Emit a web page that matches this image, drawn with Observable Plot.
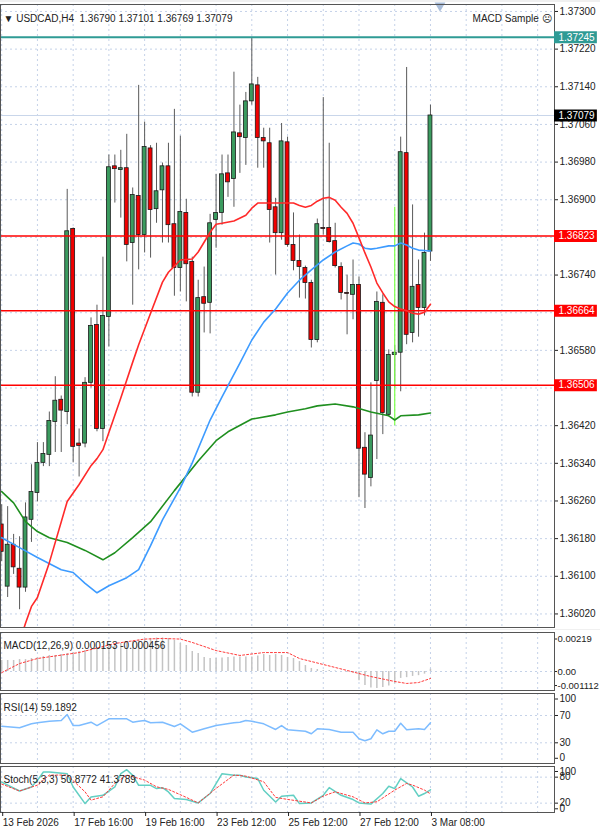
<!DOCTYPE html>
<html><head><meta charset="utf-8">
<script src="https://cdn.jsdelivr.net/npm/d3@7"></script>
<script src="https://cdn.jsdelivr.net/npm/@observablehq/plot@0.6"></script>
<style>
html,body{margin:0;padding:0;background:#fff;}
#wrap{position:relative;width:600px;height:831px;background:#f0f0f0;overflow:hidden;}
#wrap svg{position:absolute;left:0;background:#fff;}
</style></head><body><div id="wrap"></div>
<script>
// ---------- DATA ----------
const opens  = [1.36210,1.36078,1.36167,1.36116,1.36076,1.36220,1.36277,1.36341,1.36358,1.36428,1.36475,1.36449,1.36838,1.36382,1.36382,1.36511,1.36634,1.36413,1.36651,1.36971,1.36963,1.36967,1.36808,1.36908,1.36825,1.37009,1.36880,1.36920,1.36971,1.36848,1.36755,1.36872,1.36768,1.36490,1.36693,1.36681,1.36857,1.36872,1.36956,1.36944,1.37041,1.37031,1.37109,1.37143,1.37031,1.37020,1.36884,1.36829,1.37022,1.36804,1.36770,1.36755,1.36723,1.36602,1.36840,1.36840,1.36812,1.36757,1.36702,1.36698,1.36719,1.36373,1.36309,1.36515,1.36681,1.36443,1.36570,1.36575,1.36999,1.36617,1.36719,1.36670,1.36790];
const highs  = [1.36252,1.36248,1.36189,1.36184,1.36256,1.36337,1.36384,1.36384,1.36449,1.36524,1.36483,1.36922,1.36840,1.36413,1.36522,1.36649,1.36676,1.36778,1.36995,1.36995,1.37005,1.37039,1.36925,1.37143,1.37065,1.37015,1.37020,1.36978,1.37020,1.37092,1.37035,1.36901,1.36778,1.36729,1.36757,1.36869,1.36954,1.36995,1.36995,1.37171,1.37101,1.37128,1.37245,1.37160,1.37052,1.37052,1.36903,1.37062,1.37033,1.36872,1.36825,1.36759,1.36729,1.36859,1.37117,1.37020,1.36850,1.36766,1.36740,1.36772,1.36736,1.36405,1.36511,1.36704,1.36698,1.36581,1.36590,1.37033,1.37181,1.36889,1.36772,1.36829,1.37101];
const lows   = [1.36131,1.36055,1.36104,1.36029,1.36066,1.36172,1.36258,1.36333,1.36333,1.36363,1.36363,1.36422,1.36341,1.36311,1.36373,1.36500,1.36407,1.36386,1.36587,1.36893,1.36861,1.36768,1.36676,1.36751,1.36787,1.36776,1.36850,1.36808,1.36808,1.36695,1.36704,1.36683,1.36481,1.36481,1.36617,1.36615,1.36797,1.36846,1.36905,1.36884,1.36956,1.36973,1.37101,1.36967,1.36967,1.36808,1.36740,1.36814,1.36799,1.36749,1.36691,1.36689,1.36585,1.36596,1.36825,1.36808,1.36755,1.36687,1.36613,1.36645,1.36267,1.36244,1.36290,1.36348,1.36401,1.36439,1.36500,1.36492,1.36592,1.36596,1.36608,1.36653,1.36769];
const closes = [1.36152,1.36167,1.36119,1.36076,1.36225,1.36279,1.36341,1.36360,1.36430,1.36473,1.36452,1.36833,1.36375,1.36377,1.36511,1.36632,1.36413,1.36653,1.36969,1.36965,1.36967,1.36804,1.36910,1.36825,1.37012,1.36878,1.36918,1.36971,1.36846,1.36755,1.36874,1.36763,1.36490,1.36691,1.36679,1.36850,1.36872,1.36954,1.36937,1.37043,1.37033,1.37109,1.37145,1.37031,1.37024,1.36878,1.36829,1.37024,1.36804,1.36770,1.36757,1.36723,1.36602,1.36848,1.36838,1.36810,1.36759,1.36702,1.36700,1.36719,1.36371,1.36316,1.36399,1.36683,1.36447,1.36570,1.36575,1.37001,1.36613,1.36715,1.36670,1.36787,1.37079];

// moving averages, read at bar indices
const redMaIdx = [2,4,5,6,8,11,13,15,16,17,20,22,23,25,27,28,29,30,32,33,35,36,37,39,41,42,43,45,47,49,50,51,52,53,54,55,56,57,58,59,60,61,62,63,64,65,66,67,68,69,70,71,72];
const redMaVal = [1.35923,1.36000,1.36036,1.36055,1.36129,1.36259,1.36295,1.36335,1.36350,1.36369,1.36479,1.36555,1.36592,1.36659,1.36725,1.36746,1.36759,1.36772,1.36774,1.36789,1.36831,1.36848,1.36850,1.36855,1.36867,1.36882,1.36893,1.36893,1.36893,1.36893,1.36888,1.36884,1.36888,1.36897,1.36903,1.36905,1.36899,1.36884,1.36871,1.36850,1.36819,1.36787,1.36757,1.36723,1.36702,1.36683,1.36673,1.36668,1.36664,1.36659,1.36657,1.36661,1.36678];
const blueMaIdx = [0,3,6,10,12,14,16,18,21,23,25,27,30,32,35,37,40,42,44,46,48,50,52,54,56,58,59,60,61,62,63,65,66,67,68,69,70,72];
const blueMaVal = [1.36182,1.36161,1.36140,1.36114,1.36108,1.36085,1.36065,1.36080,1.36097,1.36114,1.36165,1.36220,1.36288,1.36341,1.36432,1.36481,1.36553,1.36602,1.36640,1.36668,1.36702,1.36729,1.36751,1.36772,1.36789,1.36802,1.36808,1.36806,1.36797,1.36795,1.36797,1.36802,1.36802,1.36808,1.36804,1.36797,1.36793,1.36791];
const greenMaIdx = [0,2,4,6,8,11,14,17,19,22,25,29,33,36,38,42,46,48,51,53,56,59,62,65,66,67,70,72];
const greenMaVal = [1.36280,1.36256,1.36216,1.36195,1.36182,1.36172,1.36155,1.36135,1.36150,1.36182,1.36216,1.36282,1.36345,1.36388,1.36407,1.36434,1.36443,1.36449,1.36456,1.36462,1.36466,1.36460,1.36449,1.36441,1.36432,1.36441,1.36443,1.36447];

// horizontal levels
const tealLevel = 1.37245;
const bidLevel = 1.37079;
const redLevels = [1.36823, 1.36664, 1.36506];
const limeBar = {i: 66, top: 1.36884, bottom: 1.36420};
const shiftMarkerIdx = 73.6;

// MACD main (histogram) per bar and signal read points
const macdHist = [0.00072,0.00072,0.00072,0.00078,0.00078,0.00085,0.00092,0.00098,0.00105,0.00105,0.00111,0.00118,0.00124,0.00131,0.00137,0.00144,0.00150,0.00157,0.00170,0.00177,0.00183,0.00190,0.00196,0.00203,0.00209,0.00216,0.00219,0.00219,0.00216,0.00203,0.00183,0.00170,0.00131,0.00118,0.00092,0.00085,0.00085,0.00088,0.00092,0.00095,0.00095,0.00095,0.00095,0.00101,0.00111,0.00105,0.00111,0.00105,0.00092,0.00085,0.00065,0.00039,0.00020,0.00013,0.00007,0.00007,0.00003,0.00000,-0.00005,-0.00010,-0.00060,-0.00092,-0.00108,-0.00111,-0.00105,-0.00095,-0.00080,-0.00045,-0.00040,-0.00032,-0.00027,-0.00017,0.000153];
const macdSigIdx = [0,3,6,13,19,24,27,30,32,36,40,44,48,50,54,58,62,66,68,70,72];
const macdSigVal = [-0.00007,0.00052,0.00085,0.00124,0.00183,0.00212,0.00216,0.00212,0.00190,0.00137,0.00105,0.00124,0.00124,0.00085,0.00046,0.00007,-0.00033,-0.00065,-0.00078,-0.00072,-0.000456];

// RSI(14) read points
const rsiIdx = [0,3,5,6,8,10,11,12,13,15,16,18,21,22,23,24,25,27,29,30,32,34,36,39,40,41,42,44,46,47,48,51,52,53,55,57,59,60,61,62,63,64,65,66,67,68,70,71,72];
const rsiVal = [54.3,52.0,57.8,59.3,61.6,62.7,71.4,55.3,55.3,60.2,55.3,65.1,65.1,60.2,61.6,62.7,59.3,60.2,53.9,57.8,45.5,50.5,55.3,59.3,60.2,62.7,61.6,57.8,49.5,55.3,49.0,47.0,43.2,50.5,49.5,45.5,45.5,36.0,33.0,35.9,49.0,43.2,47.0,47.0,58.7,49.0,50.5,49.5,59.19];

// Stochastic(5,3,3) read points
const stMainIdx = [0,3,5,6,7,8,11,12,14,15,17,19,20,21,22,23,25,26,27,28,29,31,33,35,37,39,40,41,43,44,46,47,49,50,52,54,55,57,59,60,62,64,65,66,67,69,70,71,72];
const stMainVal = [68.5,48.0,57.3,72.7,91.8,91.8,88.0,57.3,19.0,34.3,38.1,57.3,88.0,97.1,84.2,61.2,61.2,53.6,55.8,45.8,30.5,28.3,20.5,42.2,88.0,84.2,84.2,80.4,76.7,49.7,22.8,36.0,38.1,19.0,20.5,38.1,55.8,38.1,28.3,20.5,17.8,42.2,59.0,53.6,76.7,57.3,36.0,42.2,50.88];
const stSigIdx = [0,3,6,8,11,14,15,17,19,21,24,26,28,31,33,36,39,41,44,46,48,52,54,56,59,61,63,66,68,69,71,72];
const stSigVal = [64.0,48.0,61.6,84.8,84.8,46.0,27.0,34.6,65.6,84.8,73.2,57.7,51.7,33.3,20.5,54.0,84.8,82.4,69.3,33.3,28.6,20.5,36.3,46.2,34.6,20.5,23.1,50.1,65.6,61.7,50.1,41.38];

// tick labels
const priceTicks = d3.range(0, 17).map(k => +(1.36020 + k * 0.0008).toFixed(5));
const hiddenPriceTicks = [1.36820, 1.36660, 1.36500]; // covered by the level labels
const timeTickIdx = [0, 12, 24, 36, 48, 60, 72];
const timeTickLabels = ["13 Feb 2026", "17 Feb 16:00", "19 Feb 16:00", "23 Feb 12:00", "25 Feb 12:00", "27 Feb 12:00", "3 Mar 08:00"];
const gridIdx = d3.range(0, 91, 6);
const macdTickTop = 0.00219, macdTickMid = 0, macdTickBottom = -0.001112;
const rsiTicks = [70, 30], rsiTickTop = 100, rsiTickBottom = 0;
const stochTicks = [80, 20], stochTickTop = 100, stochTickBottom = 0;

// ---------- BUILD ----------
const bars = opens.map((o, i) => ({i, open: o, high: highs[i], low: lows[i], close: closes[i]}));
const pts = (idx, val) => idx.map((i, k) => ({i, v: val[k]}));
const xDomain = [-0.2015, 92.83];
const xR = xDomain[1];
const FONT = '"Liberation Sans", Arial, sans-serif';
const GRID = {stroke: "#c5d2e8", strokeDasharray: "2,3", strokeWidth: 1};
const GREEN = "#3b9b5f", RED = "#f00000";
const shownPriceTicks = priceTicks.filter(t => !hiddenPriceTicks.includes(t));
const AX = {anchor: "right", tickSize: 3, tickPadding: 2, label: null, fill: "#222"};

function panel(h, mt, mb, yDomain, marks, top) {
  const svg = Plot.plot({
    width: 600, height: h, marginLeft: 0, marginRight: 46, marginTop: mt, marginBottom: mb,
    x: {domain: xDomain, axis: null, label: null}, y: {domain: yDomain, label: null},
    style: {fontFamily: FONT, fontSize: "10px", color: "#222", background: "#fff", overflow: "visible"},
    marks
  });
  svg.style.top = top + "px";
  document.getElementById("wrap").appendChild(svg);
  return svg;
}

const boxData = [
  {v: tealLevel, c: "#2f9b95"}, {v: bidLevel, c: "#000"},
  ...redLevels.map(v => ({v, c: "#ff0000"}))
];

// Main price panel
panel(627, 2, 2, [1.359912, 1.373148], [
  Plot.ruleX(gridIdx, GRID),
  Plot.ruleY(priceTicks, GRID),
  Plot.ruleY([bidLevel], {stroke: "#c9d6ea"}),
  Plot.ruleX(bars, {x: "i", y1: "low", y2: "high", stroke: "#5a5a5a", strokeWidth: 1}),
  Plot.rect(bars, {x1: d => d.i - 0.33, x2: d => d.i + 0.33, y1: "open", y2: "close",
    fill: d => d.close >= d.open ? GREEN : RED, stroke: "#1a1a1a", strokeWidth: 0.8}),
  Plot.ruleX([limeBar], {x: "i", y1: "bottom", y2: "top", stroke: "#7dff4a", strokeWidth: 1.2}),
  Plot.ruleY([tealLevel], {stroke: "#2f9b95", strokeWidth: 2}),
  Plot.ruleY(redLevels, {stroke: "#ff0000", strokeWidth: 1.5}),
  Plot.line(pts(greenMaIdx, greenMaVal), {x: "i", y: "v", stroke: "#1f8f1f", strokeWidth: 1.6, clip: true}),
  Plot.line(pts(blueMaIdx, blueMaVal), {x: "i", y: "v", stroke: "#3d9bff", strokeWidth: 1.6, clip: true}),
  Plot.line(pts(redMaIdx, redMaVal), {x: "i", y: "v", stroke: "#ff2a2a", strokeWidth: 1.6, clip: true}),
  Plot.dot([shiftMarkerIdx], {x: d => d, frameAnchor: "top", symbol: "triangle", rotate: 180, r: 4, fill: "#a9bdd9", dy: 1}),
  Plot.frame({stroke: "#555"}),
  Plot.axisY(shownPriceTicks, {...AX, tickFormat: d => d.toFixed(5)}),
  Plot.ruleY(boxData, {y: "v", x1: xR, x2: xR + 7.2, stroke: "c", strokeWidth: 12}),
  Plot.text(boxData, {y: "v", x: xR, text: d => d.v.toFixed(5), fill: "#fff", textAnchor: "start", dx: 4}),
  Plot.text(["\u25BC USDCAD,H4  1.36790 1.37101 1.36769 1.37079"], {frameAnchor: "top-left", textAnchor: "start", dx: 3, dy: 10, fill: "#222"}),
  Plot.text(["MACD Sample \u2639"], {frameAnchor: "top-right", textAnchor: "end", dx: -3, dy: 10, fill: "#222"})
], 2);

// MACD panel
panel(61, 2, 1, [-0.00124, 0.00255], [
  Plot.ruleX(gridIdx, GRID),
  Plot.ruleY([0], GRID),
  Plot.ruleX(macdHist.map((v, i) => ({i, v})), {x: "i", y1: 0, y2: "v", stroke: "#c4c4c4", strokeWidth: 1.5}),
  Plot.line(pts(macdSigIdx, macdSigVal), {x: "i", y: "v", stroke: "#ff3b3b", strokeWidth: 1, strokeDasharray: "2,2"}),
  Plot.frame({stroke: "#555"}),
  Plot.axisY([macdTickTop], {...AX, tickSize: 2, tickPadding: 1, fontSize: 9.5, tickFormat: d => d.toFixed(5), dy: 1}),
  Plot.axisY([macdTickMid], {...AX, tickSize: 2, tickPadding: 1, fontSize: 9.5, tickFormat: d => d.toFixed(2)}),
  Plot.axisY([macdTickBottom], {...AX, tickSize: 2, tickPadding: 1, fontSize: 9.5, tickFormat: d => d.toFixed(6), dy: -3}),
  Plot.text(["MACD(12,26,9) 0.000153 -0.000456"], {frameAnchor: "top-left", textAnchor: "start", dx: 3, dy: 9, fill: "#222"})
], 630);

// RSI panel
panel(73, 2, 1, [-0.3, 102.2], [
  Plot.ruleX(gridIdx, GRID),
  Plot.ruleY(rsiTicks, GRID),
  Plot.line(pts(rsiIdx, rsiVal), {x: "i", y: "v", stroke: "#7dbcff", strokeWidth: 1.5}),
  Plot.frame({stroke: "#555"}),
  Plot.axisY(rsiTicks, AX),
  Plot.axisY([rsiTickTop], {...AX, dy: 4}),
  Plot.axisY([rsiTickBottom], {...AX, dy: -5}),
  Plot.text(["RSI(14) 59.1892"], {frameAnchor: "top-left", textAnchor: "start", dx: 3, dy: 10, fill: "#222"})
], 691);

// Stochastic panel with time axis
panel(67, 2, 19, [-1.6, 104.6], [
  Plot.ruleX(gridIdx, GRID),
  Plot.ruleY(stochTicks, GRID),
  Plot.line(pts(stMainIdx, stMainVal), {x: "i", y: "v", stroke: "#62cfc3", strokeWidth: 1.5}),
  Plot.line(pts(stSigIdx, stSigVal), {x: "i", y: "v", stroke: "#ff3b3b", strokeWidth: 1, strokeDasharray: "2,2"}),
  Plot.frame({stroke: "#555"}),
  Plot.axisY(stochTicks, AX),
  Plot.axisY([stochTickTop], {...AX, dy: 3}),
  Plot.axisY([stochTickBottom], {...AX, dy: -3}),
  Plot.axisX(timeTickIdx, {anchor: "bottom", tickSize: 4, tickPadding: 2, label: null, textAnchor: "start", dx: 1,
    tickFormat: (d, k) => timeTickLabels[k], fill: "#222"}),
  Plot.text(["Stoch(5,3,3) 50.8772 41.3789"], {frameAnchor: "top-left", textAnchor: "start", dx: 3, dy: 9, fill: "#222"})
], 764);
</script></body></html>
